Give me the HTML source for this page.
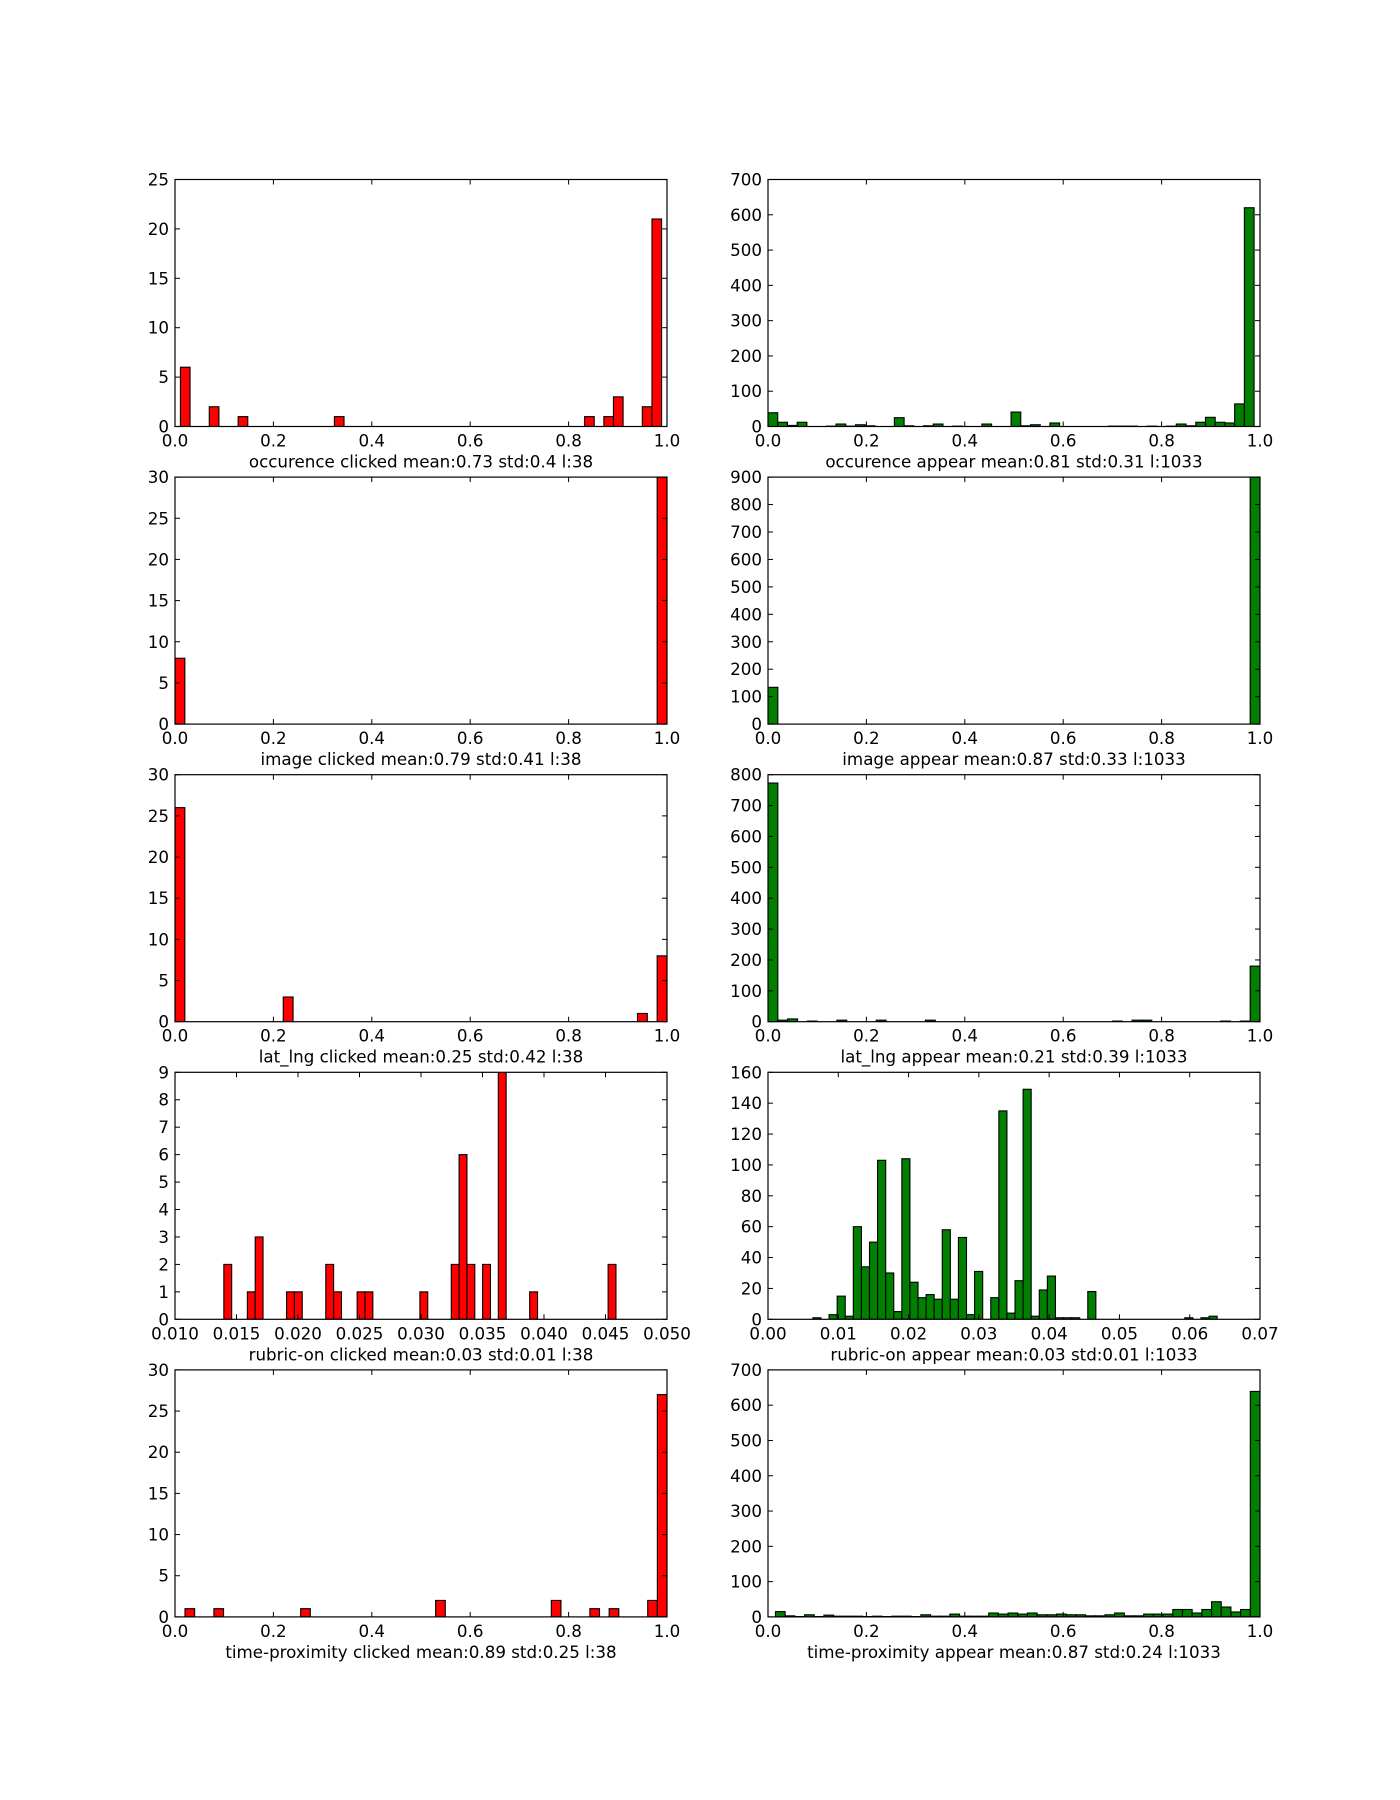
<!DOCTYPE html>
<html><head><meta charset="utf-8"><style>
html,body{margin:0;padding:0;background:#fff;}
svg{display:block;}
text{font-family:"DejaVu Sans","Liberation Sans",sans-serif;fill:#000;}
</style></head>
<body>
<svg id="fig" width="1400" height="1800" viewBox="0 0 1400 1800" xmlns="http://www.w3.org/2000/svg"></svg>
<script>
// ---- data: counts per bin (50 bins) ----
const occClicked = [6,0,0,2,0,0,1,0,0,0, 0,0,0,0,0,0,1,0,0,0, 0,0,0,0,0,0,0,0,0,0, 0,0,0,0,0,0,0,0,0,0, 0,0,1,0,1,3,0,0,2,21];
const occAppear = [39,12,3,12,0,0,1,7,1,5, 2,0,0,25,2,0,2,7,0,1, 0,0,7,0,0,41,2,5,0,10, 0,0,0,0,0,1,1,1,0,1, 0,1,7,2,12,26,12,10,64,620];
const imgClicked = [8,0,0,0,0,0,0,0,0,0, 0,0,0,0,0,0,0,0,0,0, 0,0,0,0,0,0,0,0,0,0, 0,0,0,0,0,0,0,0,0,0, 0,0,0,0,0,0,0,0,0,30];
const imgAppear = [134,0,0,0,0,0,0,0,0,0, 0,0,0,0,0,0,0,0,0,0, 0,0,0,0,0,0,0,0,0,0, 0,0,0,0,0,0,0,0,0,0, 0,0,0,0,0,0,0,0,0,900];
const latClicked = [26,0,0,0,0,0,0,0,0,0, 0,3,0,0,0,0,0,0,0,0, 0,0,0,0,0,0,0,0,0,0, 0,0,0,0,0,0,0,0,0,0, 0,0,0,0,0,0,0,1,0,8];
const latAppear = [773,5,9,0,2,0,0,5,0,0, 0,5,0,0,0,0,5,0,0,0, 0,0,0,0,0,0,0,0,0,0, 0,0,0,0,0,2,0,5,5,0, 0,0,0,0,0,0,2,0,2,180];
const rubClicked = [2,0,0,1,3,0,0,0,1,1, 0,0,0,2,1,0,0,1,1,0, 0,0,0,0,0,1,0,0,0,2, 6,2,0,2,0,9,0,0,0,1, 0,0,0,0,0,0,0,0,0,2];
const rubAppear = [1,0,3,15,2,60,34,50,103,30, 5,104,24,14,16,13,58,13,53,3, 31,0,14,135,4,25,149,2,19,28, 1,1,1,0,18,0,0,0,0,0, 0,0,0,0,0,0,1,0,1,2];
const timeClicked = [1,0,0,1,0,0,0,0,0,0, 0,0,1,0,0,0,0,0,0,0, 0,0,0,0,0,0,2,0,0,0, 0,0,0,0,0,0,0,0,2,0, 0,0,1,0,1,0,0,0,2,27];
const timeAppear = [15,3,1,6,1,5,2,2,2,1, 2,1,2,2,1,6,2,2,8,2, 2,2,11,8,11,8,11,6,6,8, 6,6,3,3,6,11,3,3,8,8, 8,21,21,11,21,43,28,14,21,639];
// ---- bin ranges (data min / max) ----
const binRanges = [[0.011,0.989],[0,0.988],[0,1],[0,1],[0,1],[0,1],[0.01397,0.04585],[0.00639,0.0639],[0.0203,1],[0.0152,1]];
// ---- axis limits and ticks ----
const xTicks01 = ["0.0","0.2","0.4","0.6","0.8","1.0"];
const xTicksRubL = ["0.010","0.015","0.020","0.025","0.030","0.035","0.040","0.045","0.050"];
const xTicksRubR = ["0.00","0.01","0.02","0.03","0.04","0.05","0.06","0.07"];
const yMaxes = [25,700,30,900,30,800,9,160,30,700];
const yStepsArr = [5,100,5,100,5,100,1,20,5,100];
const titles = ["occurence clicked mean:0.73 std:0.4 l:38","occurence appear mean:0.81 std:0.31 l:1033",
"image clicked mean:0.79 std:0.41 l:38","image appear mean:0.87 std:0.33 l:1033",
"lat_lng clicked mean:0.25 std:0.42 l:38","lat_lng appear mean:0.21 std:0.39 l:1033",
"rubric-on clicked mean:0.03 std:0.01 l:38","rubric-on appear mean:0.03 std:0.01 l:1033",
"time-proximity clicked mean:0.89 std:0.25 l:38","time-proximity appear mean:0.87 std:0.24 l:1033"];
const names = ["occurence-clicked","occurence-appear","image-clicked","image-appear","lat-lng-clicked","lat-lng-appear","rubric-on-clicked","rubric-on-appear","time-proximity-clicked","time-proximity-appear"];
const series = [occClicked,occAppear,imgClicked,imgAppear,latClicked,latAppear,rubClicked,rubAppear,timeClicked,timeAppear];

const NS="http://www.w3.org/2000/svg";
const svg=document.getElementById('fig');
function mk(tag,attrs,parent){const e=document.createElementNS(NS,tag);for(const k in attrs)e.setAttribute(k,attrs[k]);(parent||svg).appendChild(e);return e;}

const W=492,H=247;
const FS='16.7';
for(let i=0;i<10;i++){
  const col=i%2,row=Math.floor(i/2);
  const L=col===0?175:768, T=179.5+297.6*row;
  const g=mk('g',{});
  
  
  let ticks;
  if(i===6){ticks=xTicksRubL;}else if(i===7){ticks=xTicksRubR;}else{ticks=xTicks01;}
  const xmin=parseFloat(ticks[0]), xmax=parseFloat(ticks[ticks.length-1]);
  const ymax=yMaxes[i], ystep=yStepsArr[i];
  const xs=v=>L+(v-xmin)/(xmax-xmin)*W;
  const ys=v=>T+H-Math.min(v,ymax)/ymax*H;
  const clipId='c'+i;
  const cp=mk('clipPath',{id:clipId},g);
  mk('rect',{x:L,y:T,width:W,height:H},cp);
  const bars=mk('g',{'clip-path':'url(#'+clipId+')'},g);
  const data=series[i], r=binRanges[i], bw=(r[1]-r[0])/data.length;
  const color=col===0?'#ff0000':'#007f00';
  for(let b=0;b<data.length;b++){
    if(data[b]<=0) continue;
    const x0=xs(r[0]+b*bw), x1=xs(r[0]+(b+1)*bw), y=ys(data[b]);
    const rc=mk('rect',{x:x0,y:y,width:x1-x0,height:T+H-y,fill:color,stroke:'#000','stroke-width':1.1},bars);
    
    
  }
  const fr=mk('rect',{x:L,y:T,width:W,height:H,fill:'none',stroke:'#000','stroke-width':1.2},g);
  
  
  ticks.forEach(t=>{
    const x=xs(parseFloat(t));
    mk('line',{x1:x,x2:x,y1:T+H,y2:T+H-5,stroke:'#000','stroke-width':1},g);
    mk('line',{x1:x,x2:x,y1:T,y2:T+5,stroke:'#000','stroke-width':1},g);
    const tx=mk('text',{x:x,y:T+H+20,'text-anchor':'middle','font-size':FS},g);
    tx.textContent=t;
    
    
  });
  for(let v=0;v<=ymax+1e-9;v+=ystep){
    const y=ys(v);
    mk('line',{x1:L,x2:L+5,y1:y,y2:y,stroke:'#000','stroke-width':1},g);
    mk('line',{x1:L+W,x2:L+W-5,y1:y,y2:y,stroke:'#000','stroke-width':1},g);
    const ty=mk('text',{x:L-6,y:y+6,'text-anchor':'end','font-size':FS},g);
    ty.textContent=String(v);
    
    
  }
  const xl=mk('text',{x:L+W/2,y:T+H+41,'text-anchor':'middle','font-size':FS},g);
  xl.textContent=titles[i];
  
  
}
</script>
</body></html>
